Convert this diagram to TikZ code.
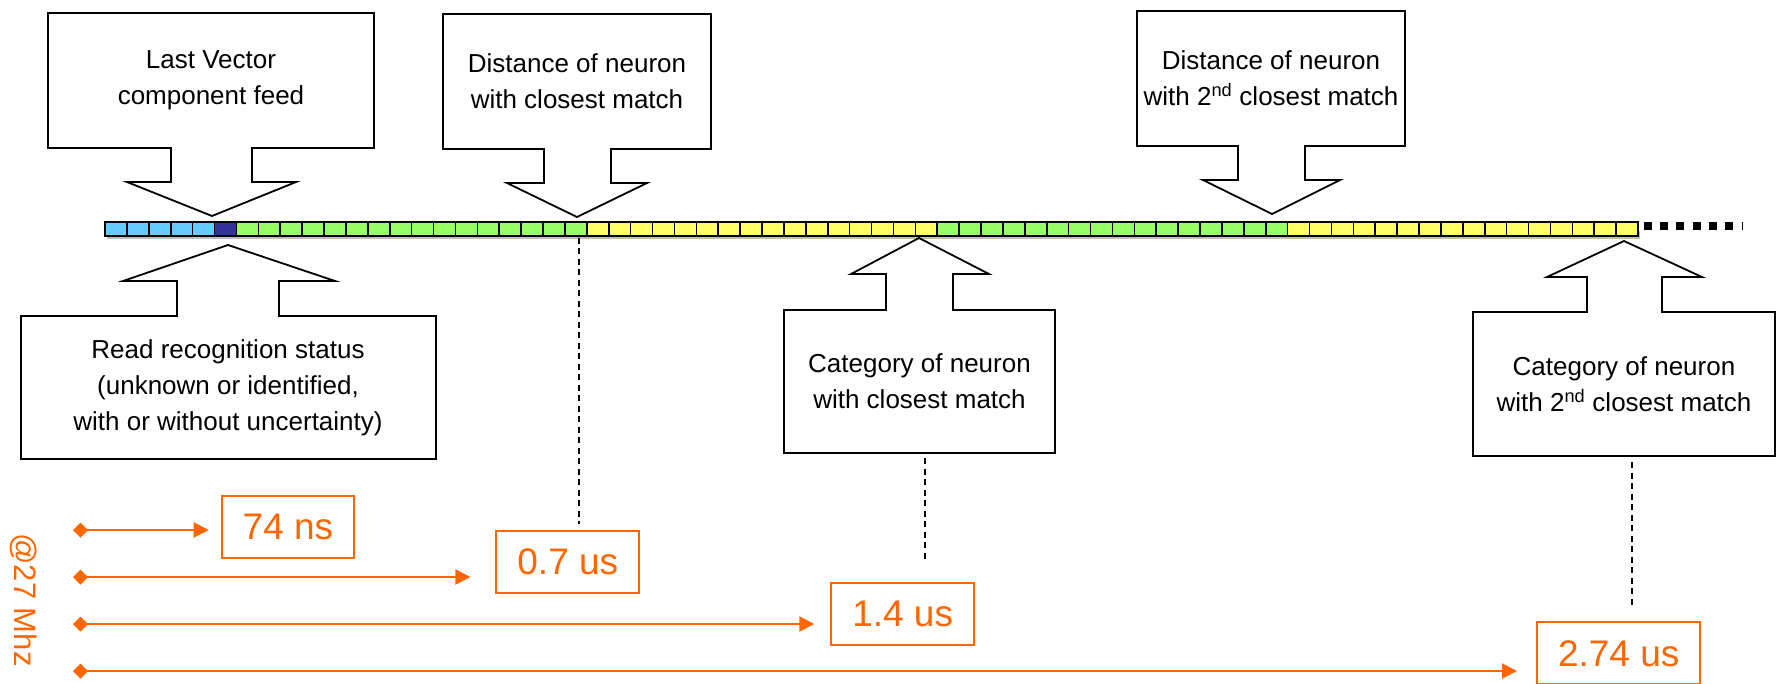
\documentclass[tikz,border=0pt]{standalone}
\usepackage{fontspec}
\setmainfont{Liberation Sans}
\usetikzlibrary{positioning,arrows.meta}

\definecolor{cellblue}{HTML}{66CCFF}
\definecolor{celldark}{HTML}{333399}
\definecolor{cellgreen}{HTML}{99FF66}
\definecolor{cellyellow}{HTML}{FFFF66}
\definecolor{timeorange}{HTML}{FF6600}

\tikzset{
  cell/.style={draw, line width=1.6pt, minimum width=21.9pt, minimum height=14pt, inner sep=0pt},
  callout/.style={draw, line width=1.8pt, line join=miter},
  calloutbox/.style={align=center, inner sep=0pt, font=\fontsize{26pt}{36pt}\selectfont},
  timebox/.style={draw=timeorange, text=timeorange, line width=2pt, inner xsep=21pt, minimum height=62pt, font=\fontsize{37pt}{44pt}\selectfont},
  timeline/.style={draw=timeorange, line width=2pt, arrows={Diamond[length=15pt,width=15pt]-Triangle[length=15pt,width=15pt]}},
  guide/.style={line width=1.8pt, dash pattern=on 6pt off 4.5pt},
}

\begin{document}
\begin{tikzpicture}[x=1pt, y=-1pt]
  \useasboundingbox (0,0) rectangle (1781,683);

  % register strip
  \fill[gray!50] (107,231) rectangle (1640,239);
  \foreach \first/\last/\col in {1/5/cellblue, 6/6/celldark, 7/22/cellgreen, 23/38/cellyellow, 39/54/cellgreen, 55/70/cellyellow}
    \foreach \i in {\first,...,\last}
      \node[cell, fill=\col] (c\i) at ({105+(\i-0.5)*21.9}, 229) {};
  \draw[line width=8pt, dash pattern=on 8pt off 8.3pt] ([xshift=5pt,yshift=3pt]c70.east) -- ++(99,0);

  % callouts above
  \draw[callout] (48,13) -- (374,13) -- (374,148) -- (252,148) -- (252,182) -- (296,182) -- (212,216)
    -- (127,182) -- (171,182) -- (171,148) -- (48,148) -- cycle;
  \node[calloutbox, minimum width=326pt, minimum height=135pt] (feed) at (211,80.5) {Last Vector\\component feed};
  \draw[callout] (443,14) -- (711,14) -- (711,149) -- (611,149) -- (611,183) -- (647,183) -- (577,217)
    -- (507,183) -- (544,183) -- (544,149) -- (443,149) -- cycle;
  \node[calloutbox, minimum width=268pt, minimum height=135pt] (dist1) at (577,81.5) {Distance of neuron\\with closest match};
  \draw[callout] (1137,11) -- (1405,11) -- (1405,146) -- (1305,146) -- (1305,180) -- (1340,180) -- (1272,214)
    -- (1203,180) -- (1238,180) -- (1238,146) -- (1137,146) -- cycle;
  \node[calloutbox, minimum width=268pt, minimum height=135pt] (dist2) at (1271,78.5) {Distance of neuron\\with 2\textsuperscript{nd} closest match};

  % callouts below
  \draw[callout] (228,245) -- (335,281) -- (279,281) -- (279,316) -- (436,316) -- (436,459) -- (21,459)
    -- (21,316) -- (177,316) -- (177,281) -- (123,281) -- cycle;
  \node[calloutbox, minimum width=415pt, minimum height=143pt] (status) at (228,387.5) {Read recognition status\\(unknown or identified,\\with or without uncertainty)};
  \draw[callout] (919,238) -- (989,274) -- (953,274) -- (953,310) -- (1055,310) -- (1055,453) -- (784,453)
    -- (784,310) -- (886,310) -- (886,274) -- (851,274) -- cycle;
  \node[calloutbox, minimum width=271pt, minimum height=143pt] (cat1) at (919.5,381.5) {Category of neuron\\with closest match};
  \draw[callout] (1624,241) -- (1702,277) -- (1662,277) -- (1662,312) -- (1775,312) -- (1775,456) -- (1473,456)
    -- (1473,312) -- (1587,312) -- (1587,277) -- (1547,277) -- cycle;
  \node[calloutbox, minimum width=302pt, minimum height=144pt] (cat2) at (1624,384) {Category of neuron\\with 2\textsuperscript{nd} closest match};

  % latencies
  \node[timebox] (lat1) at (288,527) {74 ns};
  \node[timebox] (lat2) at (567.8,561.7) {0.7 us};
  \node[timebox] (lat3) at (902.7,613.9) {1.4 us};
  \node[timebox] (lat4) at (1618.7,653.3) {2.74 us};
  \node[text=timeorange, rotate=-90, font=\fontsize{31pt}{36pt}\selectfont] (clock) at (24,600) {@27 Mhz};

  \coordinate (s1) at (73,530);
  \coordinate (s2) at (73,577);
  \coordinate (s3) at (73,624);
  \coordinate (s4) at (73,671);
  \draw[timeline, shorten >=12pt] (s1) -- (s1 -| lat1.west);
  \draw[timeline, shorten >=25pt] (s2) -- (s2 -| lat2.west);
  \draw[timeline, shorten >=16pt] (s3) -- (s3 -| lat3.west);
  \draw[timeline, shorten >=19pt] (s4) -- (s4 -| lat4.west);

  % guides
  \coordinate (g1) at ([xshift=3pt]c22.south);
  \coordinate (g2) at ([xshift=5.5pt]cat1.south);
  \coordinate (g3) at ([xshift=8pt]cat2.south);
  \draw[guide, shorten <=1pt, shorten >=6pt] (g1) -- (g1 |- lat2.north);
  \draw[guide, shorten <=5pt, shorten >=19pt] (g2) -- (g2 |- lat3.north);
  \draw[guide, shorten <=6pt, shorten >=14pt] (g3) -- (g3 |- lat4.north);
\end{tikzpicture}
\end{document}
